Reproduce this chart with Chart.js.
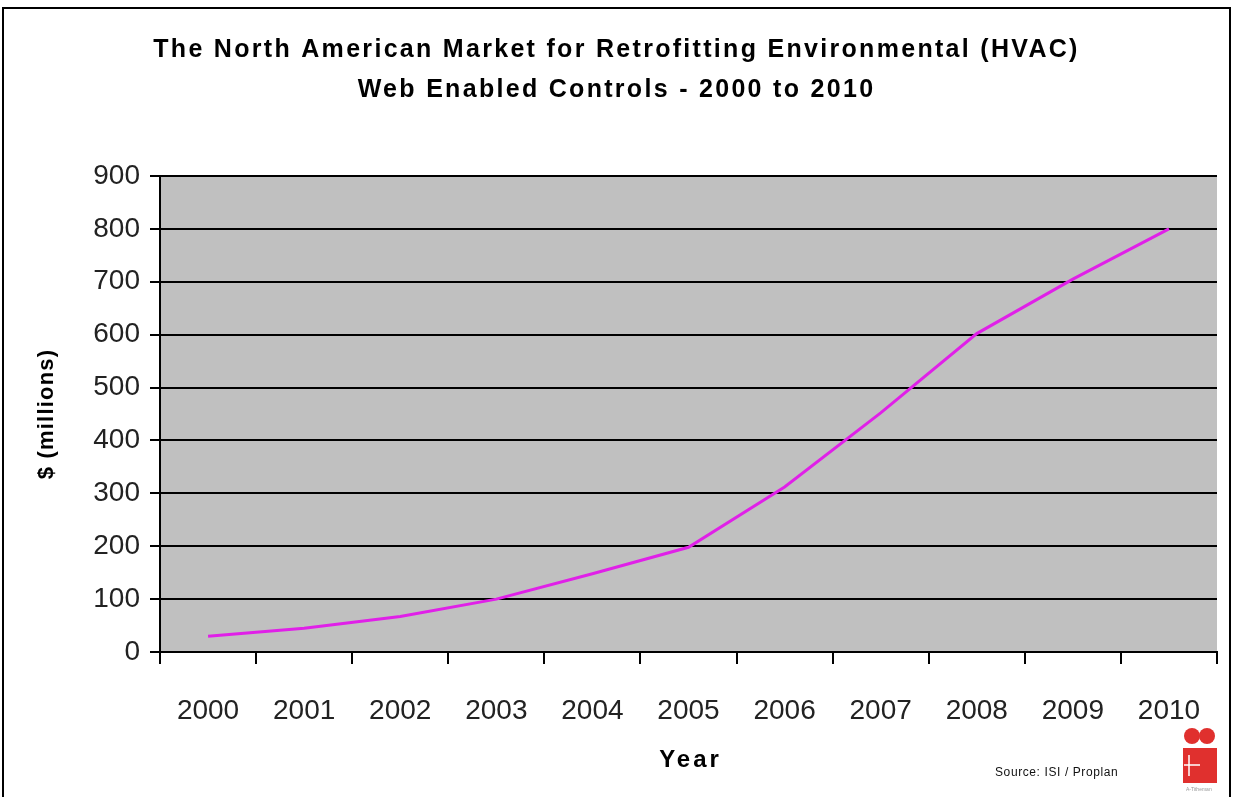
<!DOCTYPE html>
<html>
<head>
<meta charset="utf-8">
<script src="https://cdn.jsdelivr.net/npm/chart.js@4/dist/chart.umd.min.js"></script>
<style>
  html, body { margin: 0; padding: 0; background: #fff; }
  #wrap { width: 1236px; height: 797px; position: relative; }
</style>
</head>
<body>
<div id="wrap"><canvas id="c" width="1236" height="797"></canvas></div>
<script>
const years = ['2000','2001','2002','2003','2004','2005','2006','2007','2008','2009','2010'];
const marketValues = [30, 45, 67, 100, 148, 198, 312, 452, 602, 705, 800];
const titleLines = ['The North American Market for Retrofitting Environmental (HVAC)', 'Web Enabled Controls - 2000 to 2010'];
const yAxisTitle = '$ (millions)';
const xAxisTitle = 'Year';
const sourceText = 'Source: ISI / Proplan';

const FONT = '"Liberation Sans", Arial, sans-serif';

function withSpacing(ctx, sp, dx, fn) {
  ctx.save();
  ctx.letterSpacing = sp;
  ctx.translate(dx, 0);
  fn();
  ctx.restore();
}

const decor = {
  id: 'decor',
  afterLayout(chart) {
    const tb = chart.titleBlock;
    if (tb && !tb._wrapped) {
      const orig = tb.draw.bind(tb);
      tb.draw = function () { withSpacing(chart.ctx, '2.3px', 8, orig); };
      tb._wrapped = true;
    }
    const xs = chart.scales.x;
    if (xs && !xs._wrapped) {
      const o = xs.drawTitle.bind(xs);
      xs.drawTitle = function (a) { withSpacing(chart.ctx, '3px', 2, () => o(a)); };
      xs._wrapped = true;
    }
    const ys = chart.scales.y;
    if (ys && !ys._wrapped) {
      const o = ys.drawTitle.bind(ys);
      ys.drawTitle = function (a) { withSpacing(chart.ctx, '1.2px', 0, () => o(a)); };
      ys._wrapped = true;
    }
  },
  beforeDraw(chart) {
    const { ctx, chartArea: a } = chart;
    ctx.save();
    ctx.fillStyle = '#ffffff';
    ctx.fillRect(0, 0, chart.width, chart.height);
    ctx.fillStyle = '#C0C0C0';
    ctx.fillRect(a.left, a.top, a.right - a.left, a.bottom - a.top);
    ctx.restore();
  },
  afterDraw(chart) {
    const { ctx } = chart;
    ctx.save();
    ctx.strokeStyle = '#000';
    ctx.lineWidth = 2;
    ctx.strokeRect(3, 8, 1227, 800);
    ctx.fillStyle = '#111';
    ctx.font = '12px ' + FONT;
    ctx.letterSpacing = '0.6px';
    ctx.textBaseline = 'middle';
    ctx.textAlign = 'left';
    ctx.fillText(sourceText, 995, 773);
    ctx.letterSpacing = '0px';
    ctx.fillStyle = '#E0302E';
    ctx.beginPath(); ctx.arc(1192, 736, 8, 0, Math.PI * 2); ctx.fill();
    ctx.beginPath(); ctx.arc(1207, 736, 8, 0, Math.PI * 2); ctx.fill();
    ctx.fillRect(1183, 748, 34, 35);
    ctx.strokeStyle = '#fff';
    ctx.lineWidth = 1.5;
    ctx.beginPath();
    ctx.moveTo(1189, 755); ctx.lineTo(1189, 776);
    ctx.moveTo(1184, 765); ctx.lineTo(1200, 765);
    ctx.stroke();
    ctx.fillStyle = '#999';
    ctx.font = '5px ' + FONT;
    ctx.fillText('A-Titheman', 1186, 790);
    ctx.restore();
  }
};

new Chart(document.getElementById('c'), {
  type: 'line',
  data: {
    labels: years,
    datasets: [{
      data: marketValues,
      borderColor: '#E020E8',
      borderWidth: 3,
      pointRadius: 0,
      tension: 0,
      fill: false
    }]
  },
  options: {
    responsive: false,
    animation: false,
    devicePixelRatio: 1,
    layout: { padding: { top: 10, left: 0, right: 19, bottom: 0 } },
    plugins: {
      legend: { display: false },
      tooltip: { enabled: false },
      title: {
        display: true,
        text: titleLines,
        color: '#000',
        font: { family: FONT, size: 25, weight: 'bold', lineHeight: 1.6 },
        padding: { top: 20, bottom: 66 }
      }
    },
    scales: {
      x: {
        type: 'category',
        offset: true,
        afterFit(s) { s.height = 145; },
        grid: { offset: true, drawOnChartArea: false, drawTicks: true, tickLength: 12, color: '#000', lineWidth: 2 },
        border: { color: '#000', width: 2 },
        ticks: { color: '#222', font: { family: FONT, size: 28 }, padding: 30, maxRotation: 0, autoSkip: false },
        title: { display: true, text: xAxisTitle, color: '#000', font: { family: FONT, size: 24, weight: 'bold' }, padding: { top: 0, bottom: 22 } }
      },
      y: {
        min: 0,
        max: 900,
        afterFit(s) { s.width = 160; },
        grid: { color: '#000', lineWidth: 2, tickLength: 10, drawTicks: true },
        border: { color: '#000', width: 2 },
        ticks: { stepSize: 100, color: '#222', font: { family: FONT, size: 28 }, padding: 10 },
        title: { display: true, text: yAxisTitle, color: '#000', font: { family: FONT, size: 22, weight: 'bold' }, padding: { top: 34, bottom: 0 } }
      }
    }
  },
  plugins: [decor]
});
</script>
</body>
</html>
